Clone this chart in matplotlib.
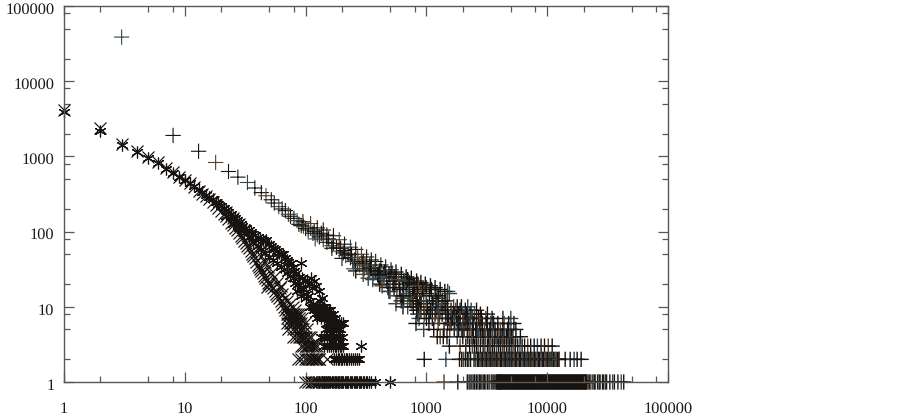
import matplotlib
matplotlib.use("Agg")
import matplotlib.pyplot as plt
from matplotlib.ticker import LogLocator, NullFormatter, FixedFormatter, FixedLocator
from matplotlib.transforms import ScaledTranslation

plt.rcParams['font.family'] = ['Liberation Serif', 'DejaVu Serif']
plt.rcParams['text.hinting'] = 'no_hinting'

# tick labels
tick_vals = [1, 10, 100, 1000, 10000, 100000]
tick_labels = ['1', '10', '100', '1000', '10000', '100000']

# + series, upper part read as (x, y)
plus_x = [3, 8, 13, 18, 23, 27.5, 33, 38, 43, 47, 52, 55, 60, 64, 68, 72, 75, 80, 85, 88, 92, 96, 100, 105, 110,
          115, 118, 125, 130, 135, 140, 150, 155, 165, 170, 180, 190, 195, 205, 215, 225, 235, 245, 255, 270,
          280, 295, 305, 320, 335, 350, 365, 380, 400, 420, 440, 470, 500, 530, 560, 600, 640, 680, 720, 800,
          260, 330, 410, 490, 610, 730, 880, 520, 650, 780, 950, 1100, 1250, 1500, 700, 850, 1000, 1200, 620, 560, 480]
plus_y = [38600, 1900, 1170, 830, 630, 530, 450, 380, 330, 300, 265, 240, 215, 200, 190, 170, 160, 150, 140, 125, 120, 118,
          110, 105, 112, 95, 100, 90, 85, 95, 78, 72, 80, 65, 70, 62, 55, 60, 52, 48, 50, 45, 40, 42, 38,
          36, 38, 32, 34, 30, 33, 28, 30, 26, 24, 27, 22, 24, 20, 22, 18, 20, 17, 19, 16,
          30, 24, 20, 16, 14, 13, 12, 28, 22, 18, 16, 17, 14, 16, 23, 20, 18, 14, 12, 11, 18]
# + series, the spread either side of the band
plus_wide_x = [95, 110, 125, 140, 120, 150, 170, 190, 165, 210, 235, 260, 200, 290, 320, 350, 250, 380, 420, 300, 460,
               510, 360, 560, 620, 430, 680, 750, 500, 830, 900, 570, 980, 1080, 650, 1180, 1300, 740, 1420, 840, 1550]
plus_wide_y = [135, 128, 112, 105, 80, 90, 88, 78, 60, 68, 62, 58, 44, 50, 46, 42, 32, 40, 36, 27, 34, 31, 23, 29, 27,
               19, 25, 24, 16, 22, 21, 14, 20, 19, 13, 18, 17, 12, 16, 11, 15]
plus_mid_x = [210, 240, 270, 300, 340, 375, 410, 450, 310, 345, 395, 445, 490, 540, 590, 540, 600, 660, 720, 790, 860,
              930, 640, 710, 770, 840, 910, 1000, 1060, 1150, 1260, 1350, 760, 820, 900, 1000, 1120, 1220, 1340, 1450]
plus_mid_y = [56, 50, 45, 40, 36, 33, 30, 29, 36, 32, 27, 25, 27, 25, 23, 18, 17, 22, 21, 20, 19, 17, 14, 15, 14, 15, 14,
              15, 14, 12, 13, 12, 11, 12, 11, 12, 11, 12, 11, 12]

# + series, counts that sit on whole numbers
plus_10_x = [640, 700, 780, 860, 950, 1020, 1120, 1230, 1400, 1500, 1680, 1800, 1950, 2200]
plus_9_x = [830, 900, 1000, 1080, 1200, 1300, 1440, 1600, 1750, 1900, 2100, 2350, 2600]
plus_8_x = [850, 960, 1050, 1180, 1260, 1350, 1500, 1620, 1700, 1850, 2000, 2150, 2300, 2500, 2800, 3200]
plus_7_x = [870, 1000, 1120, 1280, 1450, 1530, 1600, 1650, 1780, 1900, 2050, 2200, 2400, 2700, 2850, 3100, 3500, 4300, 5000]
plus_6_x = [820, 1050, 1250, 1500, 1600, 1720, 1800, 1900, 2000, 2120, 2250, 2300, 2450, 2600, 2750, 2900, 3150, 3400,
            3600, 3900, 4400, 4800, 5300]
plus_5_x = [950, 1150, 1400, 1560, 1700, 1850, 1950, 2050, 2180, 2280, 2400, 2560, 2650, 2780, 2900, 3020, 3200, 3350,
            3500, 3700, 3900, 4100, 4300, 4700, 5000, 5500]
plus_4_x = [1230, 1300, 1380, 1480, 1800, 2000, 2200, 2350, 2450, 2580, 2700, 2820, 2950, 3080, 3250, 3400, 3550, 3700,
            3850, 4000, 4150, 4300, 4450, 4600, 4750, 4900, 5050, 5200, 5500, 6000]
plus_3_x = [1550, 1900, 2120, 2280, 2400, 2500, 2600, 2680, 2800, 2950, 3050, 3200, 3300, 3400, 3520, 3650, 3800, 3950,
            4100, 4250, 4400, 4600, 4750, 4900, 5100, 5300, 5450, 5700, 5950, 6200, 6500, 6900, 7300, 7800, 8300,
            8900, 9500, 10200, 11000]
plus_2_x = [960, 1450, 1880, 1960, 2020, 2100, 2180, 2240, 2320, 2480, 2550, 2640, 2700, 2770, 2840, 2920, 2990, 3060,
            3140, 3220, 3300, 3380, 3470, 3550, 3640, 3730, 3820, 3910, 4000, 4100, 4200, 4300, 4400, 4510, 4620,
            4730, 4850, 4970, 5090, 5210, 5340, 5470, 5600, 5740, 5880, 6020, 6170, 6320, 6480, 6640, 6800, 6970,
            7140, 7310, 7490, 7680, 7870, 8060, 8260, 8460, 8670, 8880, 9100, 9320, 9550, 9790, 10030, 10280,
            10530, 10790, 11050, 11320, 11600, 11880, 12170, 12470, 12600, 14090, 15500, 16700, 17700, 19100]
plus_1_x = [1400, 1820, 2180, 2250, 2300, 2380, 2450, 2510, 2590, 2660, 2740, 2790, 2870, 2950, 3020, 3100, 3200, 3300,
            3350, 3480, 3570, 3660, 3760, 3860, 3930, 4000, 4080, 4170, 4270, 4380, 4490, 4600, 4720, 4840, 4960,
            5080, 5210, 5340, 5470, 5610, 5750, 5890, 6040, 6190, 6350, 6500, 6670, 6830, 7000, 7180, 7360, 7540,
            7730, 7920, 8120, 8320, 8530, 8740, 8960, 9190, 9420, 9650, 9890, 10140, 10390, 10650, 10920, 11190,
            11470, 11760, 12050, 12350, 12660, 12980, 13300, 13630, 13970, 14320, 14680, 15050, 15420, 15810,
            16200, 16610, 17020, 17450, 17880, 18330, 18790, 19260, 19740, 20230, 20740, 21000, 21800, 22500,
            23000, 23900, 24600, 25100, 26200, 27000, 27500, 28700, 29400, 30500, 31000, 33000, 34800, 36000,
            38500, 41000, 43000]

# x series
cross_x = [1, 2, 3, 4, 5, 6, 7, 8, 9, 10, 11, 12, 13, 14, 15, 16, 17, 18, 19, 20, 21, 22, 23, 24, 25, 26, 27, 28, 29, 30,
           31, 32, 33, 34, 35, 36, 37, 38, 39, 40, 41, 42, 43, 44, 45, 46, 47.6, 48, 49, 50, 52, 54, 56, 57, 58, 60, 62, 64,
           66, 68, 70, 72, 74, 76, 78, 80, 82, 85, 70, 75, 88, 84, 92, 90, 95, 98, 100, 105,
           22, 25, 28, 31, 34, 37, 40, 43, 46, 49, 52, 55, 58, 61, 64, 67, 62, 70, 74, 78, 82, 86]
cross_y = [4200, 2350, 1480, 1180, 980, 830, 700, 620, 540, 490, 440, 395, 350, 320, 295, 270, 245, 225, 205, 190, 170, 160, 145,
           132, 122, 112, 104, 95, 88, 82, 75, 70, 65, 60, 56, 50, 47, 44, 40, 36, 34, 32, 30, 28, 26, 24, 18.5, 23, 21, 20,
           19, 18, 16, 15, 14, 13, 12, 11, 10, 9, 10, 9, 8, 7, 6, 8, 7, 6, 8, 6, 6, 5, 5, 4, 4, 4, 3, 3,
           185, 150, 125, 105, 85, 72, 60, 48, 40, 34, 28, 25, 21, 18, 15, 13, 19, 12, 11, 10, 9, 8]
cross_8_x = [72, 78, 84, 90]
cross_7_x = [70, 76, 82, 88, 94]
cross_6_x = [70, 74, 80, 86, 92, 98]
cross_5_x = [72, 78, 84, 90, 96, 102]
cross_4_x = [78, 84, 88, 94, 100, 106, 110]
cross_3_x = [92, 96, 100, 104, 108, 112, 116, 120, 125]
cross_2_x = [86, 92, 98, 102, 106, 110, 113, 116, 119, 122, 125, 128, 130, 150]
cross_1_x = [98, 104, 110, 114, 118, 122, 126, 130, 136, 142, 150, 156, 162, 170, 175]

# * series
star_x = [1, 2, 3, 4, 5, 6, 7, 8, 9, 10, 11, 12, 13, 14, 15, 16, 17, 18, 19, 20, 21, 22, 23, 24, 25, 26, 27, 28, 29, 30, 32,
          34, 35, 36, 38, 40, 42, 44, 46, 47, 50, 52, 54, 56, 58, 60, 62, 65, 68, 70, 72, 75, 78, 80, 84, 89, 92, 94, 98, 102,
          106, 110, 114, 118, 122, 105, 128, 132, 138, 138, 142, 146, 150, 155, 160,
          22, 25, 28, 31, 34, 37, 40, 43, 46, 50, 54, 58, 62, 66, 70, 74, 78, 82, 86, 90, 96, 100, 85, 92, 100, 108, 116]
star_y = [3900, 2200, 1400, 1150, 950, 810, 690, 600, 530, 480, 440, 400, 365, 335, 310, 290, 270, 250, 235, 220, 205, 195, 180, 170,
          158, 150, 142, 135, 128, 120, 110, 104, 98, 94, 90, 84, 80, 78, 76, 78, 68, 64, 60, 58, 56, 52, 50, 50, 44, 42,
          40, 38, 34, 30, 28, 25, 38, 24, 22, 23, 20, 24, 18, 22, 19, 14, 16, 12, 8.6, 13, 10, 9, 8, 9, 7,
          160, 128, 112, 96, 84, 72, 64, 58, 52, 46, 42, 38, 34, 32, 28, 26, 24, 21, 20, 18, 17, 15, 16, 14, 13, 12, 11]
star_10_x = [108, 115, 122, 130, 138]
star_9_x = [118, 126, 134, 142, 150, 158]
star_8_x = [120, 128, 136, 144, 152, 160, 168]
star_7_x = [125, 134, 142, 150, 158, 166, 174]
star_6_x = [150, 158, 165, 172, 180, 188, 195, 203]
star_5_x = [148, 155, 162, 170, 178, 185, 192]
star_4_x = [135, 142, 150, 158, 165, 172, 180, 190, 200]
star_3_x = [142, 150, 156, 162, 168, 174, 180, 186, 192, 198, 205, 290]
star_2_x = [172, 178, 184, 190, 196, 202, 208, 214, 220, 228, 236, 245, 255, 265, 278]
star_1_x = [130, 136, 142, 148, 154, 160, 165, 170, 175, 180, 185, 190, 195, 200, 205, 210, 215, 220, 226, 232, 238, 244,
            250, 256, 262, 268, 275, 282, 290, 298, 306, 315, 325, 335, 350, 373, 495]


def levels(*groups):
    xs, ys = [], []
    for val, vals_x in groups:
        xs += vals_x
        ys += [val] * len(vals_x)
    return xs, ys


line_col = '#171310'
tints = ['#33454f', line_col, line_col, '#54402f', line_col, line_col]
fig, ax = plt.subplots(figsize=(9.02, 4.17), dpi=100)
fig.subplots_adjust(left=64 / 902, right=668 / 902, top=1 - 6 / 417, bottom=1 - 382 / 417)

# + series, some marks tinted like the scan. a colour list keeps the marks off the pixel grid
px, py = levels((10, plus_10_x), (9, plus_9_x), (8, plus_8_x), (7, plus_7_x), (6, plus_6_x), (5, plus_5_x),
                (4, plus_4_x), (3, plus_3_x), (2, plus_2_x), (1, plus_1_x))
all_x = plus_x + plus_wide_x + plus_mid_x + px
all_y = plus_y + plus_wide_y + plus_mid_y + py
cols = [tints[i % len(tints)] for i in range(len(all_x))]
# thin marks up the curve, the solid stretch along y=1 needs a heavier stroke and no tint
widths = []
for i, (vx, vy) in enumerate(zip(all_x, all_y)):
    if vy == 1 and 3860 <= vx <= 21000:
        widths.append(1.8)
        cols[i] = line_col
    elif vy > 30:
        widths.append(0.8)
    else:
        widths.append(1.0)
pts = ax.scatter(all_x, all_y, marker='+', s=11 ** 2, linewidths=widths, c=cols, clip_on=False)
pts.set_snap(False)

# x series
cx, cy = levels((8, cross_8_x), (7, cross_7_x), (6, cross_6_x), (5, cross_5_x), (4, cross_4_x),
                (3, cross_3_x), (2, cross_2_x), (1, cross_1_x))
ax.plot(cross_x + cx, cross_y + cy, ls='none', marker='x', ms=8.5, mew=0.85, color=line_col, clip_on=False)

# * series
sx, sy = levels((10, star_10_x), (9, star_9_x), (8, star_8_x), (7, star_7_x), (6, star_6_x), (5, star_5_x),
                (4, star_4_x), (3, star_3_x), (2, star_2_x), (1, star_1_x))
ax.plot(star_x + sx, star_y + sy, ls='none', marker=(6, 2, 0), ms=8.5, mew=0.85, color=line_col, clip_on=False)

ax.set_xscale('log')
ax.set_yscale('log')
ax.set_xlim(1, 100000)
ax.set_ylim(1, 100000)

for axis in (ax.xaxis, ax.yaxis):
    axis.set_major_locator(FixedLocator(tick_vals))
    axis.set_major_formatter(FixedFormatter(tick_labels))
    axis.set_minor_locator(LogLocator(base=10, subs=[2, 5, 8]))
    axis.set_minor_formatter(NullFormatter())

spine_col = '#5c5652'
ax.tick_params(which='major', direction='in', length=7.5, width=0.9, color=spine_col, top=True, right=True, labelsize=11.8,
               labelcolor='#1a1a1a')
ax.tick_params(which='minor', direction='in', length=4, width=0.9, color=spine_col, top=True, right=True)
ax.tick_params(axis='x', which='major', pad=14)
ax.tick_params(axis='y', which='major', pad=7)
for s in ax.spines.values():
    s.set_color(spine_col)
    s.set_linewidth(1.0)

# y labels sit a little under their ticks
shift = ScaledTranslation(0, -2 / 100, fig.dpi_scale_trans)
for lab in ax.get_yticklabels():
    lab.set_transform(lab.get_transform() + shift)

fig.savefig('out.png', dpi=100)
